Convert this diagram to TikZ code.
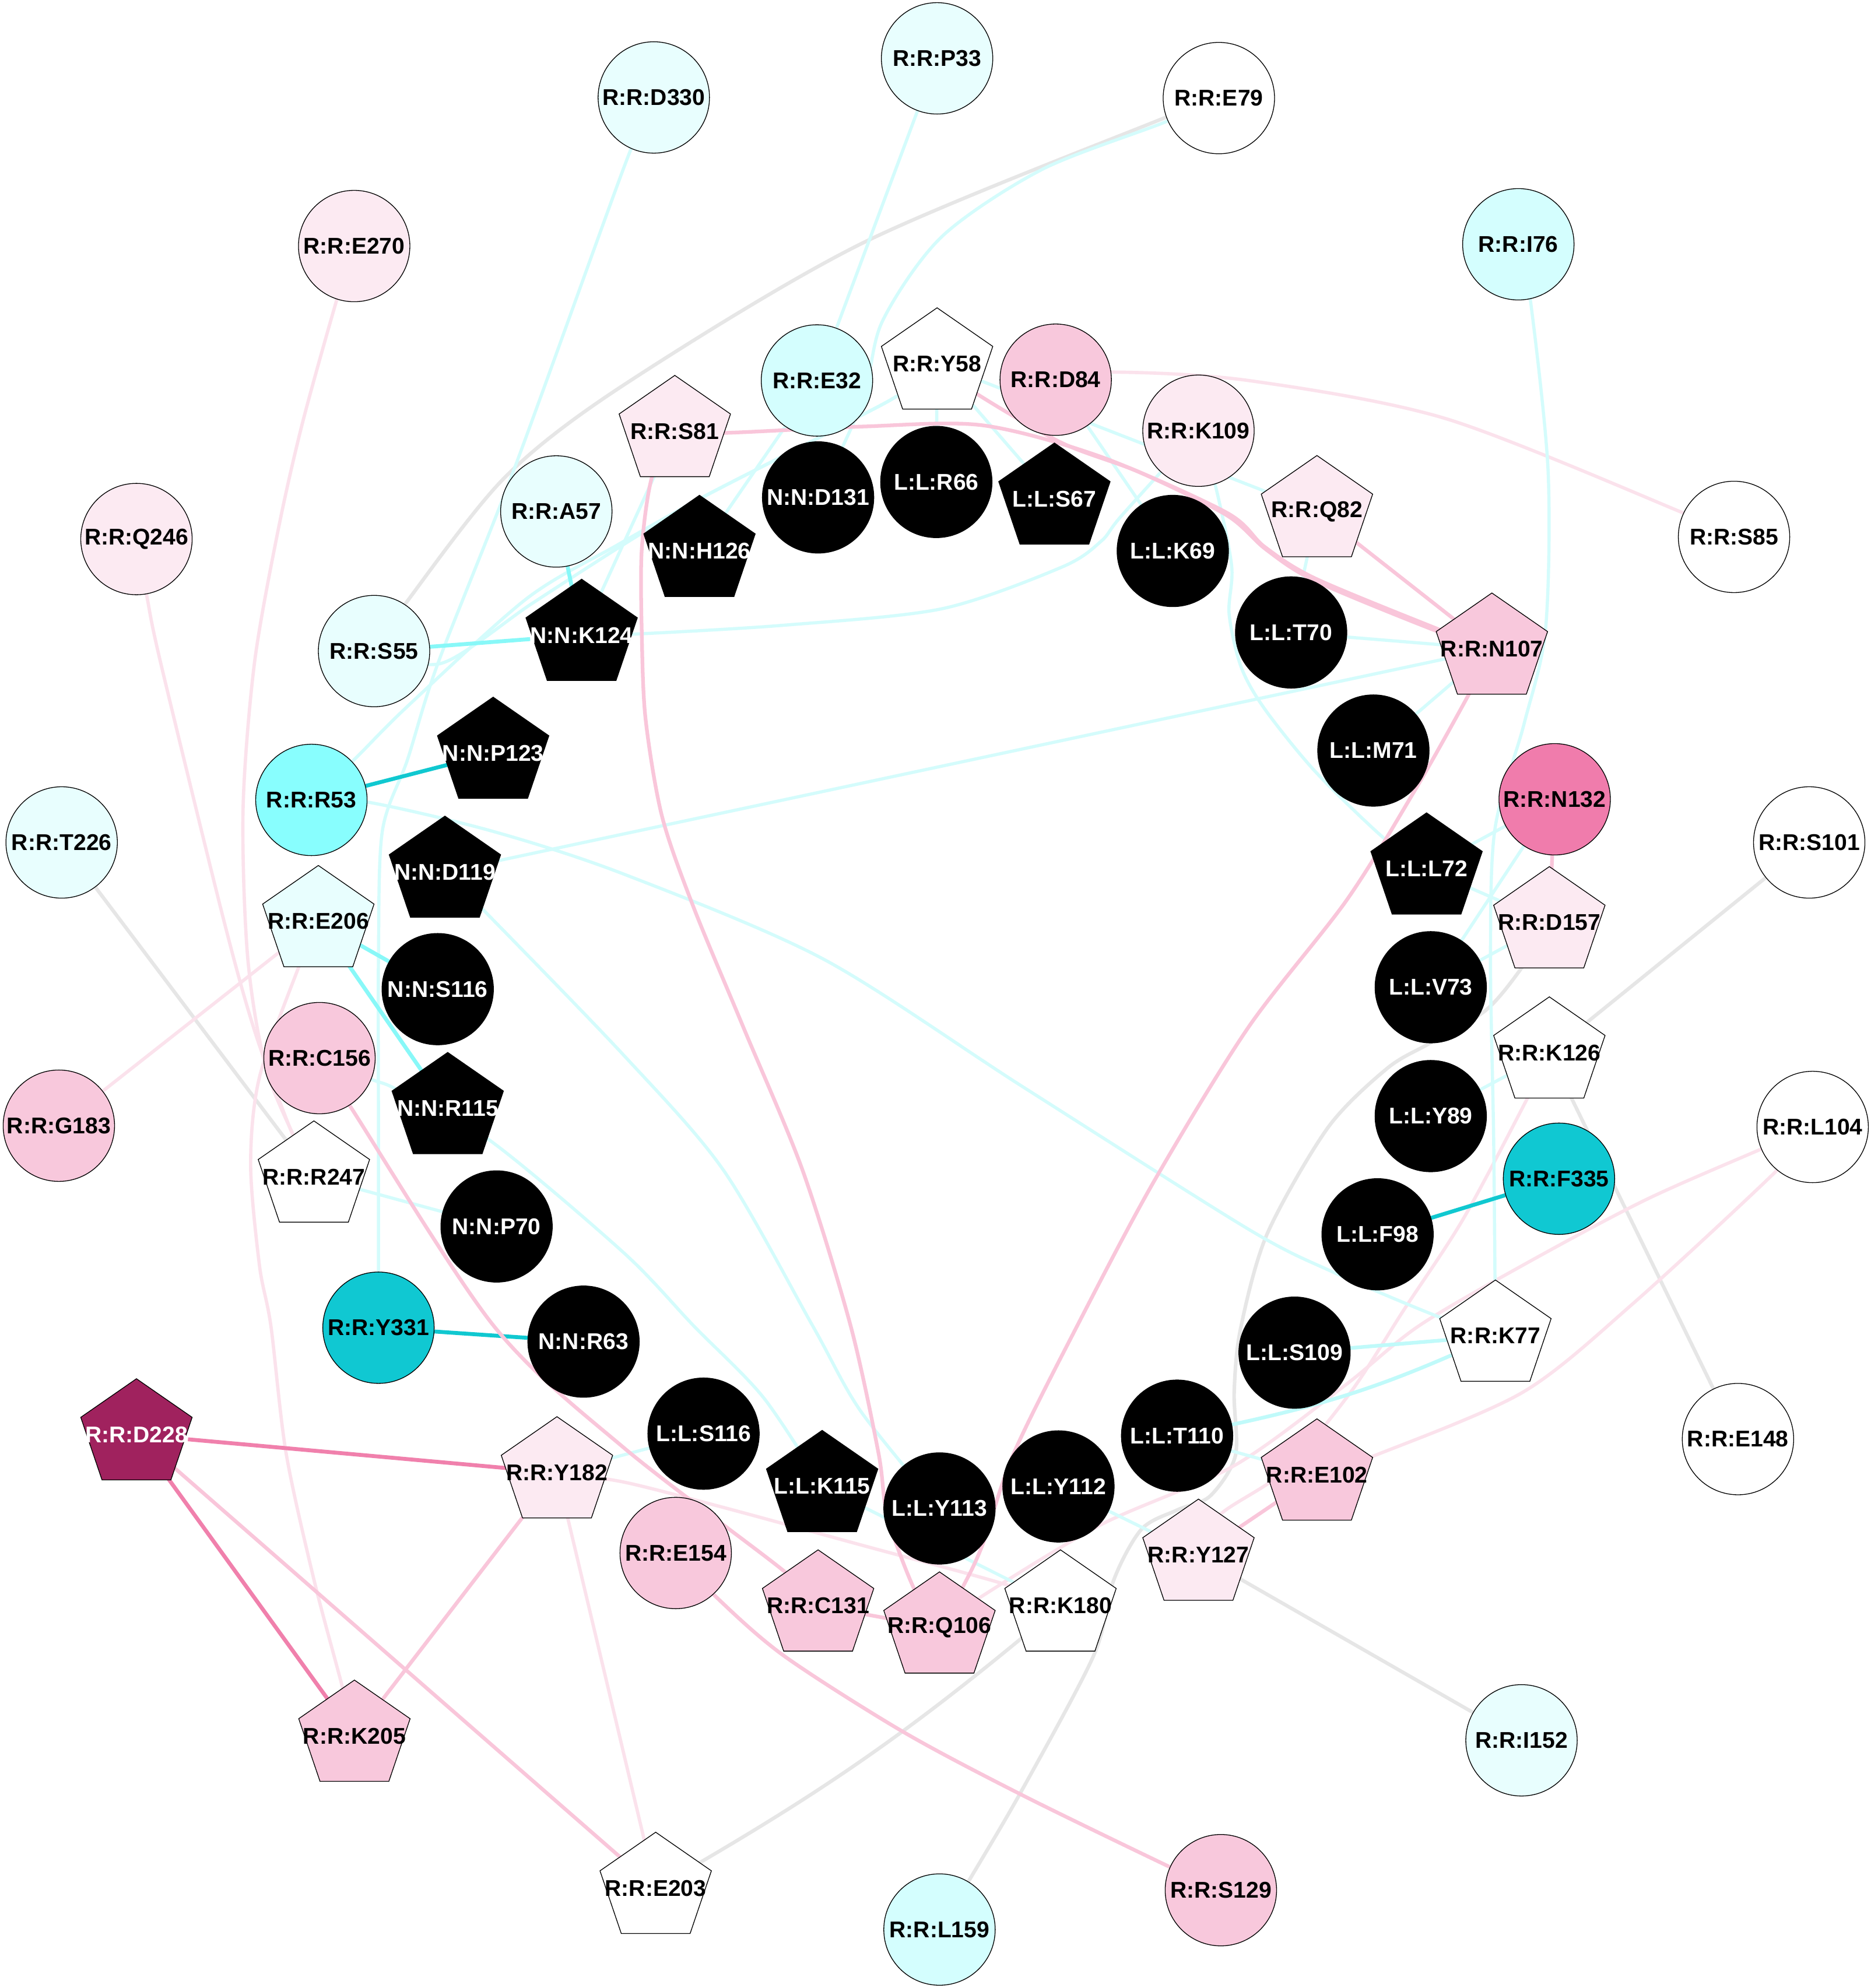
\documentclass[tikz,border=0pt]{standalone}
\usepackage{fontspec}
\setmainfont{Liberation Sans}
\usetikzlibrary{backgrounds}
\definecolor{cL}{HTML}{E8FEFE}
\definecolor{cM}{HTML}{D4FEFE}
\definecolor{cS}{HTML}{88FEFE}
\definecolor{tealA}{HTML}{10C8D2}
\definecolor{pL}{HTML}{FCEAF2}
\definecolor{pM}{HTML}{F8C8DC}
\definecolor{pS}{HTML}{F07CAC}
\definecolor{magA}{HTML}{A0225E}
\definecolor{eGrey}{HTML}{E6E6E6}
\definecolor{eCyanL}{HTML}{D4FCFC}
\definecolor{eCyanM}{HTML}{C0FAFA}
\definecolor{eCyanS}{HTML}{88F8F8}
\definecolor{eTeal}{HTML}{10C8D0}
\definecolor{ePinkL}{HTML}{FBE2EC}
\definecolor{ePinkM}{HTML}{F9C6DA}
\definecolor{ePinkS}{HTML}{F080AC}
\tikzset{
  circ/.style={circle, draw=black, line width=0.6pt, minimum size=88pt, inner sep=0pt},
  txt/.style={font=\fontsize{18}{20}\selectfont\bfseries, inner sep=0pt},
  eg/.style={draw=eGrey, line width=2.8pt},
  ecl/.style={draw=eCyanL, line width=2.5pt},
  ecm/.style={draw=eCyanM, line width=2.9pt},
  ecs/.style={draw=eCyanS, line width=3.1pt},
  et/.style={draw=eTeal, line width=3.1pt},
  epl/.style={draw=ePinkL, line width=2.6pt},
  epm/.style={draw=ePinkM, line width=2.9pt},
  eps/.style={draw=ePinkS, line width=3.1pt},
}
\newcommand\mycirc[6]{\node[circ, fill=#4, label={[txt,text=#5]center:{#6}}] (#1) at (#2,#3) {};}
\newcommand\mypent[6]{%
  \filldraw[fill=#4, draw=black, line width=0.6pt, shift={(#2,#3)}]
    (0,-44.2) -- (44,-13.7) -- (27.2,35.8) -- (-27.2,35.8) -- (-44,-13.7) -- cycle;
  \node[txt, text=#5] (#1) at (#2,#3) {#6};}
\begin{document}
\begin{tikzpicture}[x=1pt, y=-1pt]
\useasboundingbox (0,0) rectangle (1478.1,1570.7);
% ---- circles ----
\mycirc{RRD330}{516.5}{77}{cL}{black}{R:R:D330}
\mycirc{RRP33}{740.3}{46.1}{cL}{black}{R:R:P33}
\mycirc{RRE79}{962.9}{77.5}{white}{black}{R:R:E79}
\mycirc{RRE270}{279.8}{194.4}{pL}{black}{R:R:E270}
\mycirc{RRI76}{1199.5}{193}{cM}{black}{R:R:I76}
\mycirc{RRE32}{645.4}{300.6}{cM}{black}{R:R:E32}
\mycirc{RRD84}{834}{300}{pM}{black}{R:R:D84}
\mycirc{RRK109}{946.8}{340.3}{pL}{black}{R:R:K109}
\mycirc{RRS85}{1369.9}{424.2}{white}{black}{R:R:S85}
\mycirc{RRQ246}{107.8}{425.9}{pL}{black}{R:R:Q246}
\mycirc{RRA57}{439.5}{404.1}{cL}{black}{R:R:A57}
\mycirc{RRS55}{295.5}{514.4}{cL}{black}{R:R:S55}
\mycirc{RRR53}{246}{632}{cS}{black}{R:R:R53}
\mycirc{RRT226}{48.7}{665.6}{cL}{black}{R:R:T226}
\mycirc{RRN132}{1228.2}{631.5}{pS}{black}{R:R:N132}
\mycirc{RRS101}{1429.3}{665.6}{white}{black}{R:R:S101}
\mycirc{RRC156}{252.4}{836}{pM}{black}{R:R:C156}
\mycirc{RRG183}{46.5}{889.4}{pM}{black}{R:R:G183}
\mycirc{RRL104}{1432}{890.4}{white}{black}{R:R:L104}
\mycirc{RRF335}{1231.6}{931.3}{tealA}{black}{R:R:F335}
\mycirc{RRY331}{299}{1049}{tealA}{black}{R:R:Y331}
\mycirc{RRE148}{1373}{1137}{white}{black}{R:R:E148}
\mycirc{RRE154}{533.8}{1227}{pM}{black}{R:R:E154}
\mycirc{RRI152}{1202}{1375}{cL}{black}{R:R:I152}
\mycirc{RRS129}{964.5}{1493.4}{pM}{black}{R:R:S129}
\mycirc{RRL159}{742.2}{1524.5}{cM}{black}{R:R:L159}
% ---- black circles ----
\mycirc{NND131}{646.3}{393}{black}{white}{N:N:D131}
\mycirc{LLR66}{739.7}{380.8}{black}{white}{L:L:R66}
\mycirc{LLK69}{926.5}{435.3}{black}{white}{L:L:K69}
\mycirc{LLT70}{1020}{499.7}{black}{white}{L:L:T70}
\mycirc{LLM71}{1085}{593}{black}{white}{L:L:M71}
\mycirc{LLV73}{1130.3}{780}{black}{white}{L:L:V73}
\mycirc{LLY89}{1130.3}{881.8}{black}{white}{L:L:Y89}
\mycirc{LLF98}{1088.3}{975.2}{black}{white}{L:L:F98}
\mycirc{LLS109}{1022.7}{1068.7}{black}{white}{L:L:S109}
\mycirc{LLT110}{929.9}{1134.3}{black}{white}{L:L:T110}
\mycirc{LLY112}{836.2}{1174.4}{black}{white}{L:L:Y112}
\mycirc{LLY113}{742.2}{1191.8}{black}{white}{L:L:Y113}
\mycirc{LLS116}{555.8}{1132.7}{black}{white}{L:L:S116}
\mycirc{NNR63}{461}{1060}{black}{white}{N:N:R63}
\mycirc{NNP70}{392.3}{969}{black}{white}{N:N:P70}
\mycirc{NNS116}{345.8}{781.5}{black}{white}{N:N:S116}
% ---- pentagons ----
\mypent{LLS67}{833}{394.2}{black}{white}{L:L:S67}
\mypent{NNH126}{552.6}{435.5}{black}{white}{N:N:H126}
\mypent{NNK124}{459.5}{501.8}{black}{white}{N:N:K124}
\mypent{NNP123}{389.6}{595}{black}{white}{N:N:P123}
\mypent{NND119}{351.5}{689}{black}{white}{N:N:D119}
\mypent{NNR115}{353.7}{875.7}{black}{white}{N:N:R115}
\mypent{LLL72}{1127}{686.4}{black}{white}{L:L:L72}
\mypent{LLK115}{649.5}{1174.3}{black}{white}{L:L:K115}
\mypent{RRY58}{740.3}{287.4}{white}{black}{R:R:Y58}
\mypent{RRS81}{533.1}{340.8}{pL}{black}{R:R:S81}
\mypent{RRQ82}{1040.4}{404.1}{pL}{black}{R:R:Q82}
\mypent{RRN107}{1178.6}{512.7}{pM}{black}{R:R:N107}
\mypent{RRD157}{1224}{728.9}{pL}{black}{R:R:D157}
\mypent{RRE206}{251.5}{728}{cL}{black}{R:R:E206}
\mypent{RRK126}{1224}{831.8}{white}{black}{R:R:K126}
\mypent{RRR247}{248}{929.8}{white}{black}{R:R:R247}
\mypent{RRK77}{1181.4}{1055.5}{white}{black}{R:R:K77}
\mypent{RRD228}{107.8}{1133.5}{magA}{white}{R:R:D228}
\mypent{RRY182}{440}{1163.5}{pL}{black}{R:R:Y182}
\mypent{RRE102}{1040.4}{1165.2}{pM}{black}{R:R:E102}
\mypent{RRY127}{946.8}{1228.6}{pL}{black}{R:R:Y127}
\mypent{RRC131}{646.3}{1268.7}{pM}{black}{R:R:C131}
\mypent{RRQ106}{742.2}{1286.1}{pM}{black}{R:R:Q106}
\mypent{RRK180}{837.8}{1268.7}{white}{black}{R:R:K180}
\mypent{RRK205}{280}{1371.6}{pM}{black}{R:R:K205}
\mypent{RRE203}{518}{1491.8}{white}{black}{R:R:E203}
% ---- edges ----
\begin{scope}[on background layer]
\fill[white] (0,0) rectangle (1478.1,1570.7);
% grey
\draw[eg] plot[smooth] coordinates {(RRE79.center) (919,93.5) (681.5,192) (493,304) (399,377) (321,476) (RRS55.center)};
\draw[eg] (RRT226) -- (RRR247);
\draw[eg] (RRS101) -- (RRK126);
\draw[eg] (RRK126) -- (RRE148);
\draw[eg] (RRY127) -- (RRI152);
\draw[eg] (RRE203) to[bend right=5] (RRK180);
\draw[eg] plot[smooth] coordinates {(RRD157.center) (1202.6,764) (1174,798) (1130,824) (1096,844) (1049,891) (1001,975) (980,1050) (975,1100) (976,1150) (956,1182) (930,1193) (902,1208) (880,1248) (864,1308) (807,1415) (766,1485) (RRL159.center)};
% pink faint
\draw[epl] plot[smooth] coordinates {(RRE270.center) (266,237) (239,334) (220,417.5) (201,524) (192,640) (196,760) (212,850) (RRR247.center)};
\draw[epl] plot[smooth] coordinates {(RRQ246.center) (116,471) (127,524) (176,724) (201,814) (229,891) (RRR247.center)};
\draw[epl] plot[smooth] coordinates {(RRE206.center) (236,764) (205,851) (198,920) (205,1000) (214,1047.5) (226,1148) (248,1248) (270,1331) (RRK205.center)};
\draw[epl] (RRG183) -- (RRE206);
\draw[epl] plot[smooth] coordinates {(RRD84.center) (878,294) (986,300.6) (1143,331) (1331.5,406) (RRS85.center)};
\draw[epl] (RRY182) -- (RRE203);
\draw[epl] plot[smooth] coordinates {(RRK126.center) (1206,869) (1156,963) (1109,1035) (1067,1100) (1015,1162) (963.5,1197) (RRY127.center)};
\draw[epl] plot[smooth] coordinates {(RRL104.center) (1404,924.5) (1290,1030) (1203,1100) (1086,1150) (RRE102.center)};
\draw[epl] plot[smooth] coordinates {(RRL104.center) (1391,908) (1300,948) (1206,998) (1121,1047.5) (1062,1095) (975,1158) (870,1204.5) (776,1261) (RRQ106.center)};
\draw[epl] plot[smooth] coordinates {(RRY182.center) (493,1171) (571.5,1191) (681.5,1221) (791.5,1251) (RRK180.center)};
% cyan light
\draw[ecl] (RRP33) -- (RRE32);
\draw[ecl] plot[smooth] coordinates {(RRD330.center) (493,132) (407,368.5) (346,524) (322,600) (302,657) (299,757) (299,900) (RRY331.center)};
\draw[ecl] plot[smooth] coordinates {(RRI76.center) (1209,237) (1223,372) (1221,497) (1204,572) (1181,655) (1177.5,757) (1180,900) (RRK77.center)};
\draw[ecl] (RRY58) -- (LLR66);
\draw[ecl] (RRD84) -- (LLK69);
\draw[ecl] (RRY58) -- (LLS67);
\draw[ecl] (RRQ82) -- (LLT70);
\draw[ecl] (LLT70) -- (RRN107);
\draw[ecl] (LLM71) -- (RRN107);
\draw[ecl] (NND119) -- (RRN107);
\draw[ecl] plot[smooth] coordinates {(RRR53.center) (292,634) (390,657) (493,690.7) (650,757.5) (807,858) (986,971) (1053,1005) (1133,1039) (RRK77.center)};
\draw[ecl] plot[smooth] coordinates {(RRK109.center) (960.5,385) (973,447) (971,485) (980.5,527) (999,560) (1039,609.5) (1093,662) (LLL72.center)};
\draw[ecl] (RRN132) -- (LLL72);
\draw[ecl] (LLL72) -- (RRD157);
\draw[ecl] (LLV73) -- (RRN132);
\draw[ecl] (LLV73) -- (RRD157);
\draw[ecl] (LLY89) -- (RRK126);
\draw[ecl] plot[smooth] coordinates {(NNK124.center) (501,501) (619,494) (744,481) (839,448) (870,427.5) (886,407.5) (RRK109.center)};
\draw[ecl] plot[smooth] coordinates {(RRY58.center) (710,312) (675,331) (631,354) (553,394) (487,431) (416,473) (322,558) (280,600) (RRR53.center)};
\draw[ecl] plot[smooth] coordinates {(RRY58.center) (710,312) (675,331) (631,354) (553,394) (493,430) (420,477) (349,524) (RRS55.center)};
\draw[ecl] (NNK124) -- (RRS81);
\draw[ecl] plot[smooth] coordinates {(RRE79.center) (919,97) (823,134) (744,187) (697,254) (681.5,317) (NND131.center)};
\draw[ecl] (RRE32) -- (NNH126);
\draw[ecl] (RRR247) -- (NNP70);
\draw[ecl] plot[smooth] coordinates {(RRC156.center) (294,853) (314,861) (387,901) (493,990) (548,1047.5) (603,1104) (LLK115.center)};
\draw[ecl] plot[smooth] coordinates {(NND119.center) (380,717) (493,834) (571.5,924.5) (642,1047.5) (680,1115) (LLY113.center)};
\draw[ecl] (RRY182) -- (LLS116);
\draw[ecl] (LLK115) -- (RRK180);
\draw[ecl] (LLY112) -- (RRY127);
\draw[ecl] (LLT110) -- (RRE102);
\draw[ecl] (RRY58) -- (RRQ82);
% cyan mid / strong
\draw[ecm] (RRK77) -- (LLS109);
\draw[ecm] (RRK77) to[bend left=6] (LLT110);
\draw[ecs] (RRS55) -- (NNK124);
\draw[ecs] (RRA57) -- (NNK124);
\draw[ecs] (RRE206) -- (NNR115);
\draw[ecs] (RRE206) -- (NNS116);
% teal
\draw[et] (RRR53) -- (NNP123);
\draw[et] (RRY331) -- (NNR63);
\draw[et] (LLF98) -- (RRF335);
% pink mid
\draw[epm] plot[smooth] coordinates {(RRS81.center) (573,342) (681.5,337) (776,336) (870,361) (969,405) (999,432) (1039,457) (1136,497) (RRN107.center)};
\draw[epm] plot[smooth] coordinates {(RRY58.center) (773,312) (839,350) (900,373) (969,407) (1000,434) (1039,459) (1136,499) (RRN107.center)};
\draw[epm] (RRQ82) -- (RRN107);
\draw[epm] plot[smooth] coordinates {(RRN107.center) (1161,547.5) (1118,624) (1064,711) (986,812) (911,934.5) (851,1047.5) (801,1148) (776,1221) (760,1255) (RRQ106.center)};
\draw[epm] plot[smooth] coordinates {(RRS81.center) (515,377) (507,434) (507,500) (510,568) (523,645) (548,717) (587,811) (634,924.5) (672,1047.5) (694,1148) (701,1198) (722,1255) (RRQ106.center)};
\draw[epm] plot[smooth] coordinates {(RRC156.center) (276.6,874) (390,1047.5) (493,1144) (619,1241) (RRC131.center)};
\draw[epm] (RRC131) -- (RRQ106);
\draw[epm] plot[smooth] coordinates {(RRE154.center) (565,1261) (619,1308) (713,1368) (807,1418) (924,1475) (RRS129.center)};
\draw[epm] (RRD228) -- (RRE203);
\draw[epm] (RRY182) -- (RRK205);
\draw[epm] (RRY127) -- (RRE102);
\draw[epm] (RRN132) -- (RRD157);
% pink strong
\draw[eps] (RRD228) -- (RRY182);
\draw[eps] (RRD228) -- (RRK205);
\end{scope}
\end{tikzpicture}
\end{document}
